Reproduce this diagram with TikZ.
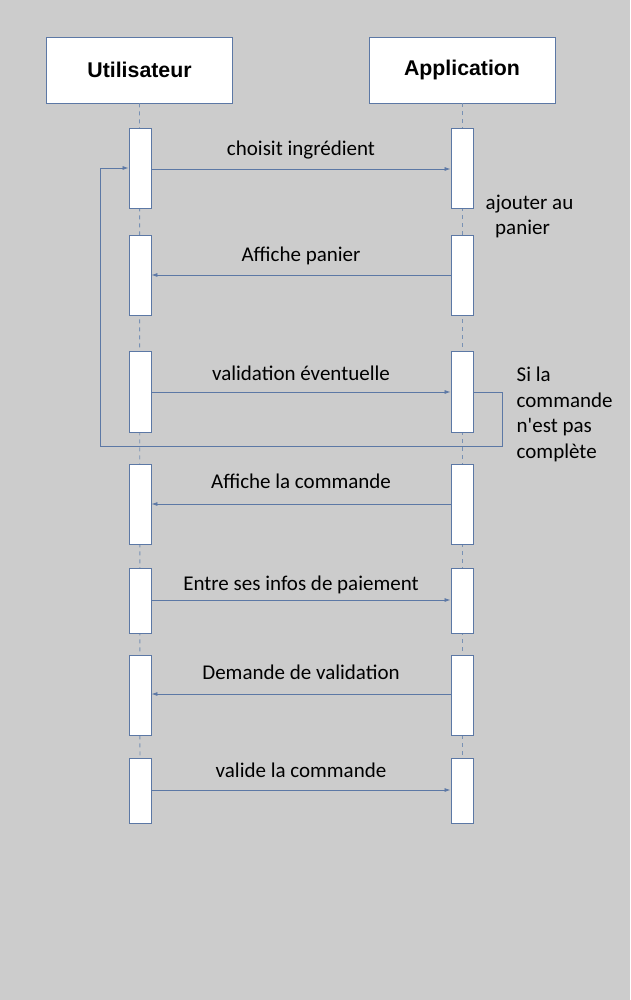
\documentclass[tikz,border=0pt]{standalone}
\usepackage{fontspec}
\setmainfont{Carlito}[Ligatures=TeXOff]
\newfontfamily\headfont{Liberation Sans}
\usetikzlibrary{arrows.meta}
\definecolor{bg}{RGB}{204,204,204}
\definecolor{edge}{RGB}{92,120,165}
\definecolor{life}{RGB}{120,145,180}
\tikzset{
  head/.style={draw=edge,fill=white,line width=0.9pt,minimum width=186pt,minimum height=66pt,inner sep=0pt,font=\headfont\bfseries\fontsize{21.3}{24}\selectfont},
  actbox/.style={draw=edge,fill=white,line width=0.9pt,minimum width=22pt,inner sep=0pt,anchor=north},
  msg/.style={draw=edge,line width=0.8pt,-{Latex[length=6pt,width=4pt]}},
  lbl/.style={font=\fontsize{21}{25.5}\selectfont,inner sep=0pt},
  mlbl/.style={lbl,anchor=base,midway,yshift=#1},
  lifeline/.style={draw=life,line width=0.9pt,dash pattern=on 4pt off 4pt},
}
\begin{document}
\begin{tikzpicture}[x=1pt,y=-1pt]
\fill[bg] (0,0) rectangle (630,1000);
\useasboundingbox (0,0) rectangle (630,1000);
\node[head] (U) at (139.5,70) {Utilisateur};
\node[head] (A) at (462,70) {Application};
\coordinate (Uend) at (140,823);
\coordinate (Aend) at (462,823);
\draw[lifeline] (U.south) -- (Uend);
\draw[lifeline] (A.south) -- (Aend);
% activations
\foreach \n/\t/\h in {1/128/80,2/235/80,3/351/81,4/464/80,5/568/65,6/655/80,7/758/65}{
  \node[actbox,minimum height=\h pt] (u\n) at (140,\t) {};
  \node[actbox,minimum height=\h pt] (a\n) at (462,\t) {};
}
% messages
\draw[msg] (u1.east |- 0,169) -- (a1.west |- 0,169) node[mlbl=13pt] {choisit ingrédient};
\draw[msg] (a2.west |- 0,275) -- (u2.east |- 0,275) node[mlbl=14pt] {Affiche panier};
\draw[msg] (u3.east |- 0,392) -- (a3.west |- 0,392) node[mlbl=12pt] {validation éventuelle};
\draw[msg] (a4.west |- 0,504) -- (u4.east |- 0,504) node[mlbl=16pt] {Affiche la commande};
\draw[msg] (u5.east |- 0,600) -- (a5.west |- 0,600) node[mlbl=10pt] {Entre ses infos de paiement};
\draw[msg] (a6.west |- 0,694) -- (u6.east |- 0,694) node[mlbl=15pt] {Demande de validation};
\draw[msg] (u7.east |- 0,790) -- (a7.west |- 0,790) node[mlbl=13pt] {valide la commande};
% loop
\draw[msg] (a3.east |- 0,392) -- (502,392) -- (502,446) -- (100,446) -- (100,168) -- (u1.west |- 0,168);
% notes
\node[lbl,align=left,anchor=north west,font=\fontsize{21}{25}\selectfont] (n1) at (485.5,195) {ajouter au\\\hspace*{9.5pt}panier};
\node[lbl,align=left,anchor=north west,font=\fontsize{21}{25.5}\selectfont] (n2) at (516.5,367) {Si la\\commande\\n'est pas\\complète};
\end{tikzpicture}
\end{document}
